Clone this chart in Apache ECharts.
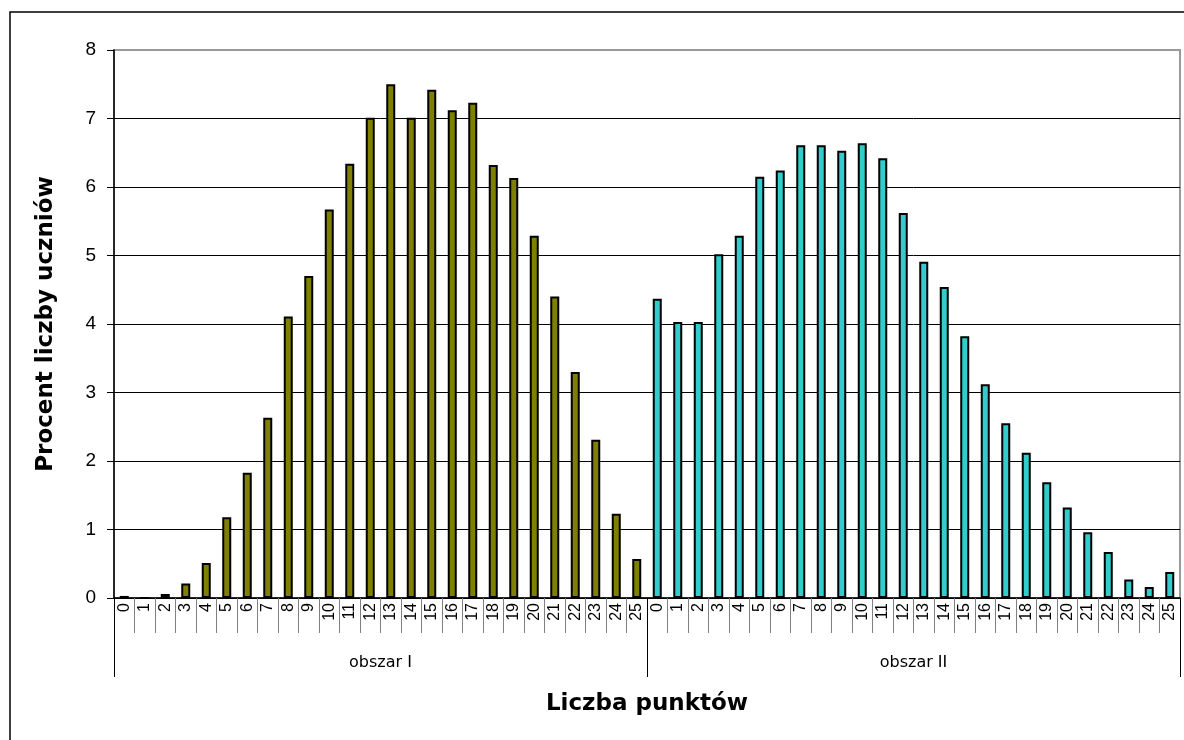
<!DOCTYPE html>
<html>
<head>
<meta charset="utf-8">
<script src="https://cdn.jsdelivr.net/npm/echarts@6/dist/echarts.min.js"></script>
<style>
  html, body { margin: 0; padding: 0; background: #fff; }
  #chart { width: 1184px; height: 740px; }
</style>
</head>
<body>
<div id="chart"></div>
<script>
// Points scale 0..25 for each area
const points = ['0','1','2','3','4','5','6','7','8','9','10','11','12','13','14','15','16','17','18','19','20','21','22','23','24','25'];
const areas = ['obszar I', 'obszar II'];

// Percentage of students for each point score
const area1 = [0.03, 0, 0.06, 0.21, 0.51, 1.18, 1.83, 2.63, 4.11, 4.70, 5.67, 6.34, 7.01, 7.50, 7.01, 7.42, 7.12, 7.23, 6.32, 6.13, 5.29, 4.40, 3.30, 2.31, 1.23, 0.57];
const area2 = [4.37, 4.03, 4.03, 5.02, 5.29, 6.15, 6.24, 6.61, 6.61, 6.53, 6.64, 6.42, 5.62, 4.91, 4.54, 3.82, 3.12, 2.55, 2.12, 1.69, 1.32, 0.96, 0.67, 0.27, 0.16, 0.38];

const yTicks = [0, 1, 2, 3, 4, 5, 6, 7, 8];

// One category per (area, score) pair; each series fills only its own half
const categories = points.concat(points);
const blank = points.map(() => '-');
const data1 = area1.concat(blank);
const data2 = blank.concat(area2);

const chart = echarts.init(document.getElementById('chart'));
const font = 'Liberation Sans, Arial, sans-serif';
const wideFont = 'DejaVu Sans, Verdana, sans-serif';

chart.setOption({
  animation: false,
  grid: {
    left: 114, right: 4, top: 50, bottom: 142,
    show: true, borderColor: '#9a9a9a', borderWidth: 2, backgroundColor: '#fff'
  },
  graphic: [{
    type: 'rect', silent: true, z: -1,
    shape: { x: 10, y: 12, width: 1200, height: 760 },
    style: { fill: 'none', stroke: '#000', lineWidth: 1.5 }
  }],
  xAxis: [{
    type: 'category',
    data: categories,
    axisLine: { lineStyle: { color: '#000', width: 1.5 } },
    axisTick: { show: true, interval: 0, length: 35, lineStyle: { color: '#808080' } },
    axisLabel: {
      interval: 0, rotate: 90, margin: 5,
      fontFamily: font, fontSize: 16, color: '#000'
    }
  }, {
    type: 'category',
    data: areas,
    position: 'bottom',
    axisLine: { show: false },
    axisTick: { show: true, length: 79, lineStyle: { color: '#000' } },
    axisLabel: { margin: 57, fontFamily: wideFont, fontSize: 16, color: '#000' },
    name: 'Liczba punktów',
    nameLocation: 'middle',
    nameGap: 95,
    nameTextStyle: { fontFamily: wideFont, fontSize: 23, fontWeight: 'bold', color: '#000' }
  }],
  yAxis: {
    type: 'value',
    min: yTicks[0], max: yTicks[yTicks.length - 1], interval: 1,
    axisLine: { show: true, lineStyle: { color: '#000', width: 1.5 } },
    axisTick: { show: true, length: 7, lineStyle: { color: '#000' } },
    axisLabel: { margin: 18, fontFamily: font, fontSize: 19, color: '#000' },
    splitLine: { show: true, showMaxLine: false, lineStyle: { color: '#000', width: 1 } },
    name: 'Procent liczby uczniów',
    nameLocation: 'middle',
    nameGap: 56,
    nameTextStyle: { fontFamily: wideFont, fontSize: 23, fontWeight: 'bold', color: '#000' }
  },
  series: [{
    name: areas[0], type: 'bar', xAxisIndex: 0,
    data: data1, barWidth: 9, barGap: '-100%',
    itemStyle: { color: '#808000', borderColor: '#000', borderWidth: 2 }
  }, {
    name: areas[1], type: 'bar', xAxisIndex: 0,
    data: data2, barWidth: 9,
    itemStyle: { color: '#33CCCC', borderColor: '#000', borderWidth: 2 }
  }]
});
</script>
</body>
</html>
